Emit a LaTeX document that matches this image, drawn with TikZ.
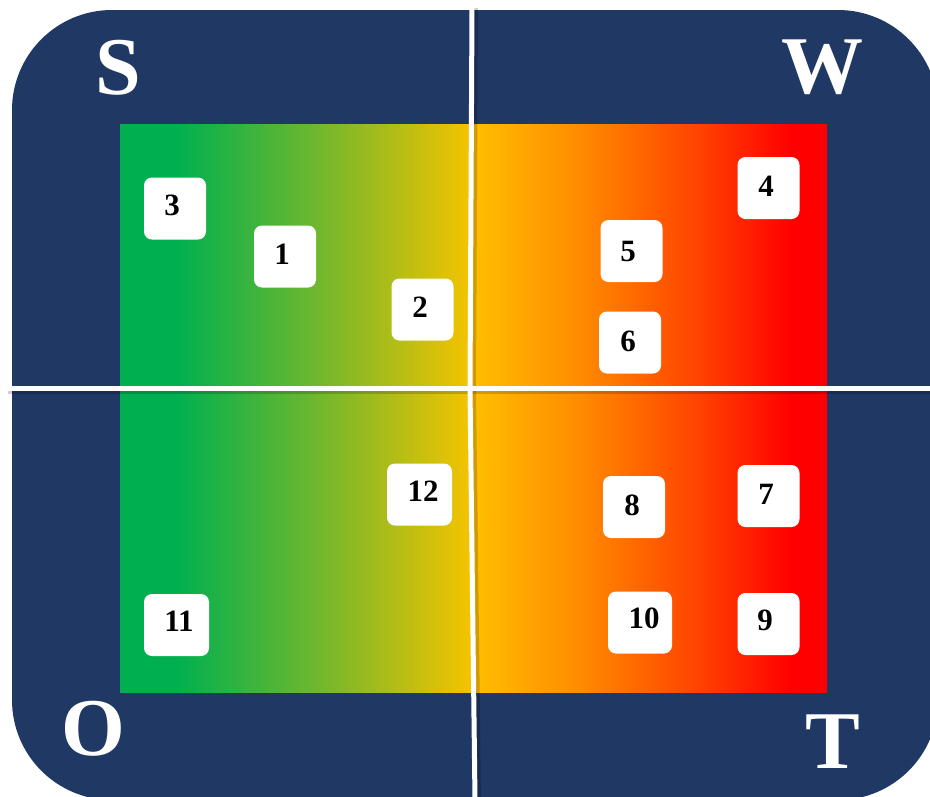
\documentclass[tikz,border=0pt]{standalone}
\usepackage{fontspec}
\setmainfont{Liberation Serif}
\definecolor{navy}{RGB}{32,56,100}
\definecolor{gA}{RGB}{0,176,80}
\definecolor{gB}{RGB}{122,184,42}
\definecolor{gC}{RGB}{245,195,0}
\definecolor{oA}{RGB}{255,192,0}
\definecolor{oB}{RGB}{255,140,0}
\definecolor{oC}{RGB}{255,66,0}
\definecolor{oD}{RGB}{255,0,0}
\pgfdeclarehorizontalshading{leftgrad}{100bp}{color(0bp)=(gA); color(25bp)=(gA); color(33bp)=(gA); color(55bp)=(gB); color(75bp)=(gC); color(100bp)=(gC)}
\pgfdeclarehorizontalshading{rightgrad}{100bp}{color(0bp)=(oA); color(25bp)=(oA); color(40bp)=(oB); color(57bp)=(oC); color(70bp)=(oD); color(100bp)=(oD)}
\tikzset{
  card/.style={rectangle, fill=white, rounded corners=8pt, minimum width=62pt, minimum height=62pt, inner sep=0pt},
  num/.style={inner sep=0pt, font=\fontsize{31}{31}\selectfont\bfseries, text=black},
  bigletter/.style={inner sep=0pt, font=\fontsize{82}{82}\selectfont\bfseries, text=white},
  divider/.style={white, line width=5pt},
  dividershadow/.style={black, opacity=0.18, line width=4pt}
}
\begin{document}
\begin{tikzpicture}[x=1pt, y=-1pt]
\useasboundingbox (0,0) rectangle (930,796);
\clip (0,0) rectangle (930,796);
% background panel
\fill[navy, rounded corners=100pt] (12,10) rectangle (938,800);
% gradient fields
\shade[shading=leftgrad] (120,124) rectangle (471,692);
\shade[shading=rightgrad] (471,124) rectangle (827,692);
% quadrant letters
\node[bigletter] (S) at (118,68) {S};
\node[bigletter] (W) at (822,67) {W};
\node[bigletter] (O) at (93,729) {O};
\node[bigletter] (T) at (833,742) {T};
% dividers
\coordinate (vtop) at (472,8);
\coordinate (vmid) at (470,388);
\coordinate (vbot) at (475,800);
\coordinate (hl) at (8,388);
\coordinate (hr) at (934,388);
\draw[dividershadow] ([shift={(0,4)}]hl) -- ([shift={(0,4)}]hr);
\draw[dividershadow] ([shift={(4,0)}]vtop) -- ([shift={(4,0)}]vmid) -- ([shift={(4,0)}]vbot);
\draw[divider] (hl) -- (hr);
\draw[divider] (vtop) -- (vmid) -- (vbot);
% cards
\node[card] (b3) at (175,208.5) {};
\node[card] (b1) at (285,256.5) {};
\node[card] (b2) at (422.5,309.5) {};
\node[card] (b4) at (768.5,188) {};
\node[card] (b5) at (631.5,251) {};
\node[card] (b6) at (630,342.5) {};
\node[card, minimum width=65pt] (b12) at (419.5,494.5) {};
\node[card] (b8) at (634,507) {};
\node[card] (b7) at (768.5,496) {};
\node[card, minimum width=64pt] (b10) at (640,622.5) {};
\node[card] (b9) at (768.5,624) {};
\node[card, minimum width=65pt] (b11) at (176.5,625) {};
% numbers
\node[num] (t3) at (172,205) {3};
\node[num] (t1) at (282,254) {1};
\node[num] (t2) at (420,307) {2};
\node[num] (t4) at (766,186) {4};
\node[num] (t5) at (628,251) {5};
\node[num] (t6) at (628,341) {6};
\node[num] (t12) at (423,491) {12};
\node[num] (t8) at (632,505) {8};
\node[num] (t7) at (766,494) {7};
\node[num] (t10) at (644,618) {10};
\node[num] (t9) at (765,620) {9};
\node[num] (t11) at (179,621) {11};
\end{tikzpicture}
\end{document}
